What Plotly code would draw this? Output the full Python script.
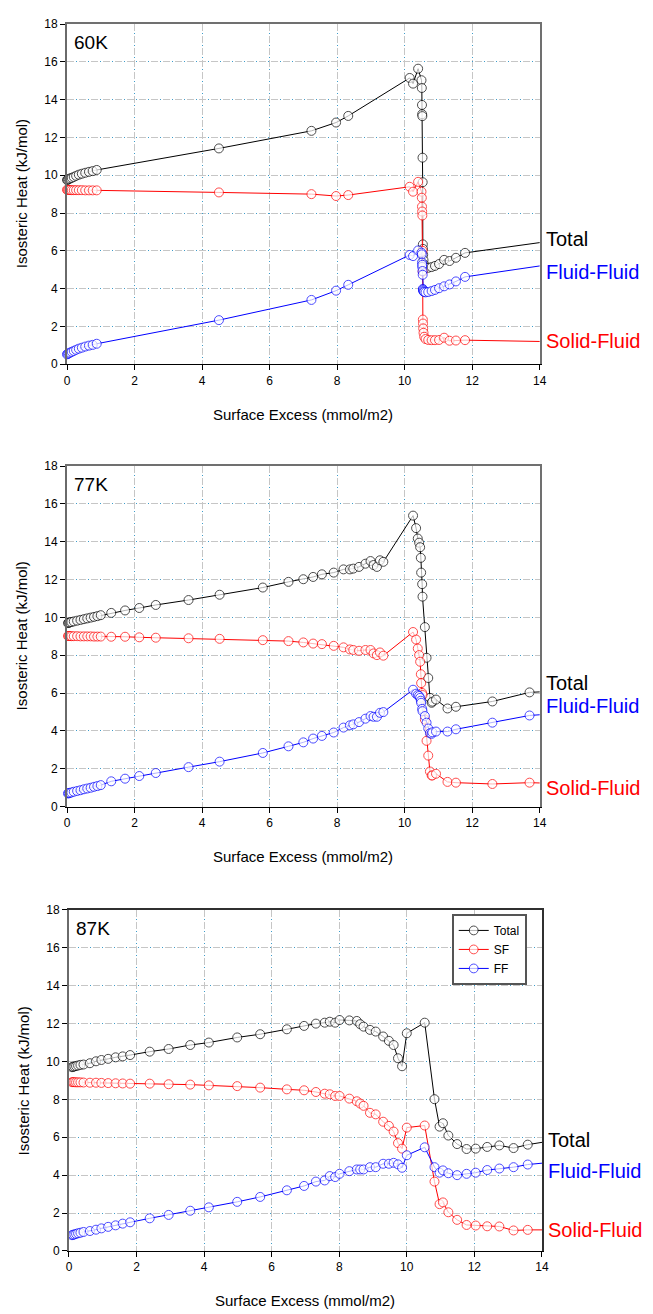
import plotly.graph_objects as go

FONT = "Liberation Sans, Arial, Helvetica, sans-serif"
W, H = 653, 1314

# ---------------- 60K ----------------
x60 = [0.00, 0.02, 0.05, 0.09, 0.14, 0.20, 0.27, 0.35, 0.44, 0.54, 0.65, 0.76, 0.88,
       4.50, 7.24, 7.97, 8.33,
       10.15, 10.25, 10.40,
       10.50, 10.51, 10.515, 10.52, 10.525, 10.53, 10.535, 10.54, 10.545, 10.55, 10.56, 10.58, 10.62,
       10.70, 10.80, 10.90, 11.02, 11.17, 11.33, 11.52, 11.79, 15.0]
total60 = [9.75, 9.76, 9.79, 9.83, 9.86, 9.91, 9.97, 10.03, 10.08, 10.13, 10.18, 10.22, 10.28,
           11.42, 12.35, 12.79, 13.14,
           15.15, 14.85, 15.64,
           15.03, 14.62, 13.72, 13.23, 13.13, 10.93, 9.63, 6.34, 6.10, 5.79, 5.51, 5.27, 5.13,
           5.10, 5.14, 5.20, 5.30, 5.52, 5.46, 5.63, 5.89, 6.68]
sf60 = [9.23, 9.22, 9.22, 9.22, 9.21, 9.21, 9.21, 9.21, 9.21, 9.20, 9.20, 9.20, 9.20,
        9.09, 9.00, 8.90, 8.95,
        9.39, 9.13, 9.65,
        9.13, 8.81, 8.34, 8.08, 7.87, 6.00, 4.90, 2.36, 2.15, 1.89, 1.66, 1.45, 1.33,
        1.28, 1.27, 1.27, 1.28, 1.40, 1.24, 1.25, 1.27, 1.17]
ff60 = [0.52, 0.54, 0.57, 0.61, 0.65, 0.70, 0.76, 0.82, 0.87, 0.93, 0.98, 1.02, 1.08,
        2.33, 3.40, 3.89, 4.20,
        5.78, 5.72, 6.02,
        5.90, 5.81, 5.38, 5.15, 5.26, 4.93, 4.73, 3.98, 3.95, 3.90, 3.85, 3.82, 3.80,
        3.82, 3.87, 3.93, 4.02, 4.12, 4.22, 4.38, 4.62, 5.46]

# ---------------- 77K ----------------
x77 = [0.03, 0.05, 0.08, 0.13, 0.20, 0.30, 0.40, 0.50, 0.60, 0.70, 0.80, 0.90, 1.00,
       1.31, 1.72, 2.14, 2.63, 3.60, 4.52, 5.80, 6.56, 7.00, 7.29, 7.55,
       7.90, 8.19, 8.38, 8.48, 8.65, 8.84, 8.99, 9.08, 9.18, 9.27, 9.37,
       10.25, 10.34, 10.39, 10.43, 10.46, 10.48, 10.49, 10.52, 10.53, 10.60, 10.65, 10.70, 10.75,
       10.80, 10.82, 10.93, 11.27, 11.52, 12.60, 13.70, 15.0]
total77 = [9.70, 9.72, 9.74, 9.76, 9.79, 9.83, 9.87, 9.91, 9.95, 9.99, 10.03, 10.07, 10.12,
           10.24, 10.37, 10.50, 10.66, 10.92, 11.20, 11.58, 11.88, 12.02, 12.14, 12.28,
           12.37, 12.54, 12.54, 12.58, 12.67, 12.84, 12.98, 12.77, 12.67, 13.02, 12.94,
           15.38, 14.72, 14.17, 13.95, 13.71, 13.15, 12.37, 11.76, 11.10, 9.49, 7.87, 6.80, 5.75,
           5.49, 5.55, 5.66, 5.19, 5.28, 5.56, 6.04, 6.15]
sf77 = [9.02, 9.02, 9.02, 9.01, 9.01, 9.01, 9.00, 9.00, 9.00, 9.00, 8.99, 8.99, 8.99,
        8.98, 8.98, 8.95, 8.93, 8.90, 8.87, 8.80, 8.75, 8.68, 8.62, 8.59,
        8.50, 8.42, 8.31, 8.28, 8.24, 8.28, 8.28, 8.10, 8.01, 8.15, 7.98,
        9.23, 8.83, 8.36, 8.01, 7.66, 7.00, 6.53, 6.01, 5.90, 4.60, 3.48, 2.70, 1.86,
        1.65, 1.65, 1.74, 1.31, 1.27, 1.20, 1.27, 1.20]
ff77 = [0.70, 0.71, 0.73, 0.75, 0.79, 0.83, 0.87, 0.92, 0.96, 1.00, 1.05, 1.09, 1.14,
        1.34, 1.48, 1.62, 1.78, 2.09, 2.38, 2.84, 3.19, 3.40, 3.60, 3.74,
        3.92, 4.18, 4.30, 4.35, 4.47, 4.65, 4.79, 4.75, 4.75, 4.96, 5.00,
        6.18, 5.97, 5.90, 5.85, 5.75, 5.60, 5.49, 5.17, 5.05, 4.79, 4.44, 4.13, 3.88,
        3.85, 3.93, 3.97, 3.97, 4.09, 4.44, 4.82, 4.98]

# ---------------- 87K ----------------
x87 = [0.09, 0.12, 0.16, 0.21, 0.27, 0.34, 0.43, 0.62, 0.80, 0.96, 1.16, 1.38, 1.59, 1.81,
       2.39, 2.95, 3.59, 4.14, 4.98, 5.66, 6.45, 6.96, 7.31, 7.57,
       7.72, 7.88, 8.01, 8.30, 8.52, 8.62, 8.72, 8.91, 9.08, 9.30, 9.47, 9.61, 9.74, 9.86, 10.00, 10.53,
       10.82, 10.97, 11.07, 11.23, 11.49, 11.77, 12.04, 12.38, 12.74, 13.16, 13.58, 15.0]
total87 = [9.70, 9.72, 9.74, 9.76, 9.79, 9.82, 9.84, 9.91, 10.01, 10.08, 10.14, 10.22, 10.27, 10.34,
           10.52, 10.66, 10.87, 11.00, 11.27, 11.44, 11.70, 11.88, 12.00, 12.05,
           12.10, 12.05, 12.19, 12.17, 12.14, 11.97, 11.84, 11.67, 11.58, 11.32, 11.09, 10.87, 10.17, 9.75, 11.49, 12.05,
           8.01, 6.56, 6.74, 6.09, 5.64, 5.38, 5.40, 5.49, 5.57, 5.43, 5.61, 6.02]
sf87 = [8.91, 8.91, 8.91, 8.90, 8.90, 8.90, 8.89, 8.88, 8.88, 8.87, 8.86, 8.85, 8.84, 8.83,
        8.83, 8.80, 8.78, 8.74, 8.70, 8.62, 8.53, 8.48, 8.39, 8.30,
        8.27, 8.18, 8.18, 8.04, 7.90, 7.78, 7.66, 7.29, 7.21, 6.82, 6.60, 6.30, 5.69, 5.40, 6.51, 6.62,
        3.66, 2.47, 2.56, 2.04, 1.64, 1.37, 1.34, 1.30, 1.29, 1.08, 1.11, 1.11]
ff87 = [0.83, 0.85, 0.87, 0.90, 0.93, 0.96, 1.00, 1.05, 1.12, 1.19, 1.27, 1.35, 1.44, 1.51,
        1.72, 1.90, 2.12, 2.30, 2.59, 2.85, 3.20, 3.43, 3.66, 3.72,
        3.95, 3.90, 4.07, 4.21, 4.30, 4.30, 4.30, 4.42, 4.42, 4.60, 4.60, 4.65, 4.57, 4.39, 5.05, 5.47,
        4.42, 4.13, 4.25, 4.10, 4.00, 4.07, 4.13, 4.27, 4.35, 4.42, 4.56, 4.80]

series_names = ["Total", "SF", "FF"]
series_colors = ["#000000", "#ff0000", "#0000ff"]
side_labels = ["Total", "Fluid-Fluid", "Solid-Fluid"]
side_colors = ["#000000", "#0000ff", "#ff0000"]
# y positions (in data units) of the right-hand series labels, per panel: Total, FF, SF
lab60 = [6.63, 4.88, 1.24]
lab77 = [6.53, 5.31, 0.99]
lab87 = [5.87, 4.21, 1.11]
panel_names = ["60K", "77K", "87K"]

X_MAX, Y_MAX = 14, 18

panels = [
    dict(x=x60, t=total60, sf=sf60, ff=ff60, lab=lab60, px=(65, 545), py=(17.3, 361), frame="#707070"),
    dict(x=x77, t=total77, sf=sf77, ff=ff77, lab=lab77, px=(65, 545), py=(464, 808.3), frame="#707070"),
    dict(x=x87, t=total87, sf=sf87, ff=ff87, lab=lab87, px=(67, 547.3), py=(912.7, 1257.3), frame="#303030"),
]

fig = go.Figure()
layout = {}
annotations = []
GRID_GRAY = "#c6c6c6"
GRID_DOT = "#3a9ccc"

for i, p in enumerate(panels):
    k = i + 1
    xa = "x" if k == 1 else f"x{k}"
    ya = "y" if k == 1 else f"y{k}"
    ko = k + 3
    sizes = [9 if xv <= X_MAX else 0 for xv in p["x"]]
    for name, vals, col in zip(series_names, [p["t"], p["sf"], p["ff"]], series_colors):
        fig.add_trace(go.Scatter(
            x=p["x"], y=vals, mode="lines+markers", name=name,
            line=dict(color=col, width=1),
            marker=dict(symbol="circle", size=sizes, color="white", line=dict(color=col, width=1)),
            xaxis=xa, yaxis=ya, showlegend=(k == 3), cliponaxis=False))
    # overlay subplot for the dotted part of grid + top/right frame
    fig.add_trace(go.Scatter(x=[], y=[], xaxis=f"x{ko}", yaxis=f"y{ko}",
                             showlegend=False, hoverinfo="skip"))

    xdom = [p["px"][0] / W, p["px"][1] / W]
    ydom = [1 - p["py"][1] / H, 1 - p["py"][0] / H]
    xkey = "xaxis" if k == 1 else f"xaxis{k}"
    ykey = "yaxis" if k == 1 else f"yaxis{k}"
    layout[xkey] = dict(domain=xdom, range=[0, X_MAX], anchor=ya, tick0=0, dtick=2,
                        ticks="outside", ticklen=5, tickcolor="#000", tickwidth=1,
                        showline=True, linecolor="#000", linewidth=1.2,
                        showgrid=True, gridcolor=GRID_GRAY, gridwidth=1, griddash="7px,5px",
                        zeroline=False, tickfont=dict(size=12, color="#000", family=FONT))
    layout[ykey] = dict(domain=ydom, range=[0, Y_MAX], anchor=xa, tick0=0, dtick=2,
                        ticks="outside", ticklen=5, tickcolor="#000", tickwidth=1,
                        showline=True, linecolor="#6a6a6a", linewidth=2,
                        showgrid=True, gridcolor=GRID_GRAY, gridwidth=1, griddash="7px,5px",
                        zeroline=False, tickfont=dict(size=12, color="#000", family=FONT))
    layout[f"xaxis{ko}"] = dict(overlaying=xa, range=[0, X_MAX], anchor=f"y{ko}", side="top",
                               tick0=0, dtick=2, ticks="", showticklabels=False,
                               showline=True, linecolor=p["frame"], linewidth=2,
                               showgrid=True, gridcolor=GRID_DOT, gridwidth=1,
                               griddash="0px,9px,1px,2px", zeroline=False)
    layout[f"yaxis{ko}"] = dict(overlaying=ya, range=[0, Y_MAX], anchor=f"x{ko}", side="right",
                               tick0=0, dtick=2, ticks="", showticklabels=False,
                               showline=True, linecolor=p["frame"], linewidth=2,
                               showgrid=True, gridcolor=GRID_DOT, gridwidth=1,
                               griddash="0px,9px,1px,2px", zeroline=False)

    # panel temperature label
    annotations.append(dict(text=panel_names[i], xref=f"{xa} domain", yref=f"{ya} domain",
                            x=0, y=1, xshift=5, yshift=-6, xanchor="left", yanchor="top",
                            showarrow=False, font=dict(size=19, color="#000", family=FONT)))
    # right-hand series labels
    for txt, col, yv in zip(side_labels, side_colors, p["lab"]):
        annotations.append(dict(text=txt, xref=xa, yref=ya, x=X_MAX, y=yv, xanchor="left",
                                yanchor="middle", xshift=4, showarrow=False,
                                font=dict(size=20, color=col, family=FONT)))
    # axis titles
    annotations.append(dict(text="Isosteric Heat (kJ/mol)", xref=f"{xa} domain", yref=f"{ya} domain",
                            x=0, y=0.5, xshift=-46, textangle=-90, xanchor="center", yanchor="middle",
                            showarrow=False, font=dict(size=15, color="#000", family=FONT)))
    annotations.append(dict(text="Surface Excess (mmol/m2)", xref=f"{xa} domain", yref=f"{ya} domain",
                            x=0.5, y=0, yshift=-50, xanchor="center", yanchor="middle",
                            showarrow=False, font=dict(size=15, color="#000", family=FONT)))

fig.update_layout(
    width=W, height=H, margin=dict(l=0, r=0, t=0, b=0),
    paper_bgcolor="white", plot_bgcolor="white",
    font=dict(family=FONT, color="#000"),
    annotations=annotations,
    legend=dict(x=455.7 / W, y=1 - 916.7 / H, xanchor="left", yanchor="top",
                bgcolor="white", bordercolor="#555555", borderwidth=2,
                font=dict(size=12, color="#000", family=FONT), tracegroupgap=0),
    **layout,
)

fig.write_html("out.html")
